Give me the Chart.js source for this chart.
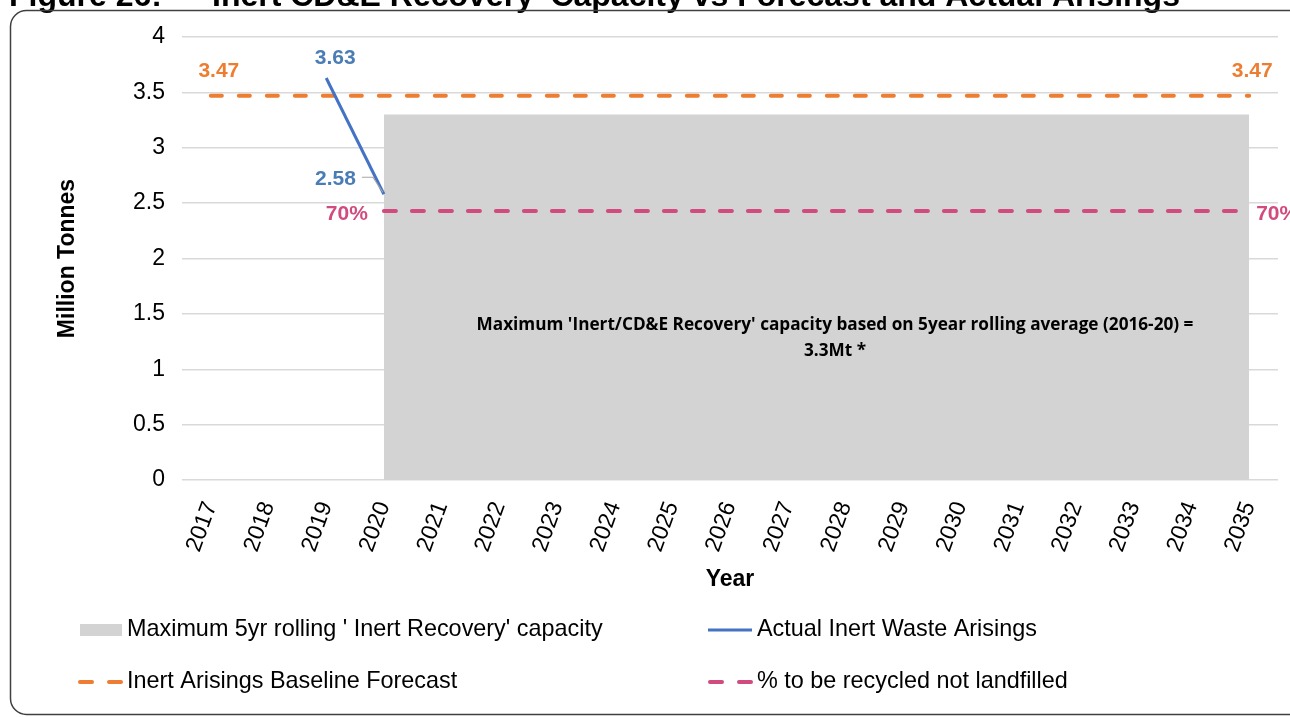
<!DOCTYPE html>
<html>
<head>
<meta charset="utf-8">
<script src="https://cdn.jsdelivr.net/npm/chart.js@4.4.1/dist/chart.umd.min.js"></script>
<style>
  html,body{margin:0;padding:0;background:#fff;overflow:hidden;}
  #wrap{position:relative;width:1290px;height:717px;}
</style>
</head>
<body>
<div id="wrap"><canvas id="chart" width="1290" height="717"></canvas></div>
<script>
// dados
const years = ['2017','2018','2019','2020','2021','2022','2023','2024','2025','2026','2027','2028','2029','2030','2031','2032','2033','2034','2035'];
const capacity = [null,null,null,3.3,3.3,3.3,3.3,3.3,3.3,3.3,3.3,3.3,3.3,3.3,3.3,3.3,3.3,3.3,3.3];
const forecast = [3.47,3.47,3.47,3.47,3.47,3.47,3.47,3.47,3.47,3.47,3.47,3.47,3.47,3.47,3.47,3.47,3.47,3.47,3.47];
const actual = [null,null,3.63,2.58,null,null,null,null,null,null,null,null,null,null,null,null,null,null,null];
const recycled = [null,null,null,2.43,2.43,2.43,2.43,2.43,2.43,2.43,2.43,2.43,2.43,2.43,2.43,2.43,2.43,2.43,2.43];
const yTicks = [0,0.5,1,1.5,2,2.5,3,3.5,4];

const seriesNames = ["Maximum 5yr rolling ' Inert Recovery' capacity","Actual Inert Waste Arisings","Inert Arisings Baseline Forecast","% to be recycled not landfilled"];
const titleParts = ["Figure 26:","Inert CD&E Recovery' Capacity vs Forecast and Actual Arisings"];
const noteLines = ["Maximum 'Inert/CD&E Recovery' capacity based on 5year rolling average (2016-20) =","3.3Mt *"];

const GREY='#d3d3d3', ORANGE='#ED7D31', BLUE='#4472C4', PINK='#D14B7E';
const FONT='"Liberation Sans", Arial, sans-serif';

// rótulos, legenda, moldura
const extras = {
  id:'extras',
  afterDraw(chart){
    const ctx=chart.ctx, x=chart.scales.x, y=chart.scales.y;
    ctx.save();
    // título cortado no topo
    ctx.fillStyle='#000';
    ctx.font='bold 32px '+FONT;
    ctx.textAlign='left'; ctx.textBaseline='alphabetic';
    ctx.fillText(titleParts[0],9,6);
    ctx.fillText(titleParts[1],212,6);
    // moldura arredondada
    ctx.strokeStyle='#404040'; ctx.lineWidth=1.5;
    ctx.beginPath(); ctx.roundRect(10.5,10.5,1300,704,16); ctx.stroke();

    // rótulos de dados
    ctx.font='bold 21px '+FONT; ctx.textBaseline='middle'; ctx.textAlign='center';
    ctx.fillStyle=ORANGE;
    ctx.fillText(forecast[0].toFixed(2), x.getPixelForValue(0)+8, y.getPixelForValue(forecast[0])-24);
    ctx.fillText(forecast[18].toFixed(2), x.getPixelForValue(18)+3, y.getPixelForValue(forecast[18])-24);
    ctx.fillStyle='#4A7DB5';
    ctx.fillText(actual[2].toFixed(2), x.getPixelForValue(2)+9, y.getPixelForValue(actual[2])-20);
    const px=x.getPixelForValue(3), py=y.getPixelForValue(actual[3]);
    ctx.textAlign='right';
    ctx.fillText(actual[3].toFixed(2), px-28, py-15);
    ctx.strokeStyle='#a6a6a6'; ctx.lineWidth=1.2;
    ctx.beginPath(); ctx.moveTo(px-22,py-17); ctx.lineTo(px-11,py-17); ctx.lineTo(px-1,py-2); ctx.stroke();
    ctx.fillStyle=PINK;
    const ry=y.getPixelForValue(recycled[3]);
    ctx.fillText('70%', px-16, ry+3);
    ctx.textAlign='left';
    ctx.fillText('70%', x.getPixelForValue(18)+7, ry+3);

    // nota no meio da área cinza
    ctx.fillStyle='#000'; ctx.textAlign='center';
    ctx.font='bold 17.2px "Open Sans", sans-serif';
    ctx.fillText(noteLines[0], 835, 325);
    ctx.fillText(noteLines[1], 835, 351);

    // legenda
    ctx.font='23.4px '+FONT; ctx.textAlign='left'; ctx.fillStyle='#000';
    const L1=80, L2=708, R1=630, R2=682, tx=47;
    ctx.fillStyle=GREY; ctx.fillRect(L1,R1-6,42,12);
    ctx.fillStyle='#000'; ctx.fillText(seriesNames[0],L1+tx,R1);
    ctx.strokeStyle=BLUE; ctx.lineWidth=3; ctx.lineCap='butt';
    ctx.beginPath(); ctx.moveTo(L2,R1); ctx.lineTo(L2+44,R1); ctx.stroke();
    ctx.fillText(seriesNames[1],L2+49,R1);
    ctx.lineWidth=4; ctx.lineCap='round';
    ctx.strokeStyle=ORANGE; ctx.setLineDash([12,17]);
    ctx.beginPath(); ctx.moveTo(L1,R2); ctx.lineTo(L1+42,R2); ctx.stroke();
    ctx.strokeStyle=PINK;
    ctx.beginPath(); ctx.moveTo(L2+2,R2); ctx.lineTo(L2+44,R2); ctx.stroke();
    ctx.setLineDash([]);
    ctx.fillText(seriesNames[2],L1+tx,R2);
    ctx.fillText(seriesNames[3],L2+49,R2);
    ctx.restore();
  }
};

new Chart(document.getElementById('chart'),{
  type:'line',
  data:{
    labels:years,
    datasets:[
      {label:seriesNames[1],data:actual,borderColor:BLUE,borderWidth:3,pointRadius:0,order:0,spanGaps:false},
      {label:seriesNames[2],data:forecast,borderColor:ORANGE,borderWidth:4,borderDash:[11,17],borderCapStyle:'round',pointRadius:0,order:1},
      {label:seriesNames[3],data:recycled,borderColor:PINK,borderWidth:4,borderDash:[12,16],borderCapStyle:'round',pointRadius:0,order:2},
      {label:seriesNames[0],data:capacity,borderWidth:0,borderColor:'rgba(0,0,0,0)',backgroundColor:GREY,fill:'origin',pointRadius:0,order:3}
    ]
  },
  options:{
    responsive:false,
    animation:false,
    layout:{padding:{left:10,right:12,top:37,bottom:124}},
    plugins:{legend:{display:false},tooltip:{enabled:false}},
    scales:{
      x:{
        offset:true,
        grid:{display:false},
        border:{display:false},
        ticks:{color:'#000',font:{family:FONT,size:23},minRotation:70,maxRotation:70,padding:10},
        title:{display:true,text:'Year',color:'#000',font:{family:FONT,size:23,weight:'bold'},padding:{top:0,bottom:0}},
        afterFit(s){s.height=113;}
      },
      y:{
        min:0,max:4,
        afterBuildTicks(s){s.ticks=yTicks.map(v=>({value:v}));},
        grid:{color:'#d9d9d9',lineWidth:1.5,drawTicks:false},
        border:{display:false},
        ticks:{color:'#000',font:{family:FONT,size:23},padding:17,callback:v=>String(v)},
        title:{display:true,text:'Million Tonnes',color:'#000',font:{family:FONT,size:23,weight:'bold'},padding:{top:44,bottom:0}},
        afterFit(s){s.width=172;}
      }
    }
  },
  plugins:[extras]
});
</script>
</body>
</html>
